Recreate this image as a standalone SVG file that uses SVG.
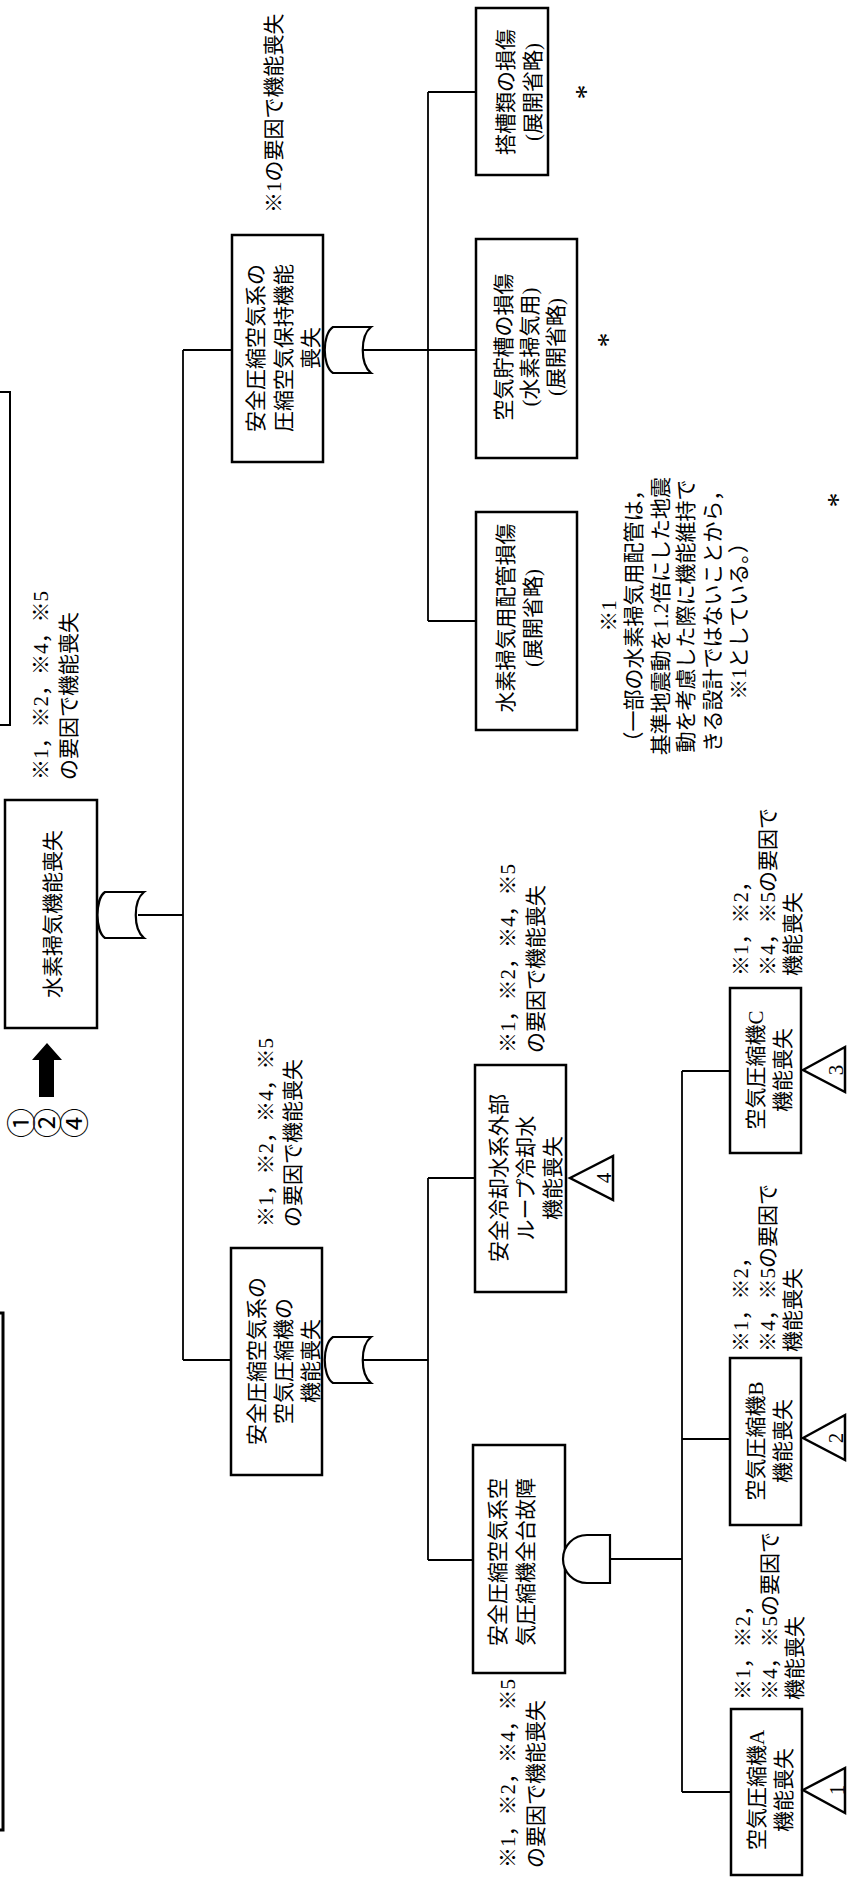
<svg xmlns="http://www.w3.org/2000/svg" width="858" height="1888" viewBox="0 0 858 1888">
<style>
.bg{fill:#fff}
.box{fill:#fff;stroke:#000;stroke-width:2.5}
.ln{fill:none;stroke:#000;stroke-width:1.8}
.gate{fill:#fff;stroke:#000;stroke-width:2.2}
.tri{fill:#fff;stroke:#000;stroke-width:2.5}
.frame{fill:none;stroke:#000}
.t{font-family:"Liberation Serif","Noto Sans CJK JP",serif;font-size:21px;fill:#000}
.c{font-family:"Noto Sans CJK JP",sans-serif;font-size:30px;fill:#000;text-anchor:middle}
.m{text-anchor:middle}
.s{text-anchor:start}
.ast{font-family:"Liberation Serif",serif;font-size:30px;fill:#000;text-anchor:middle}
</style>
<rect class="bg" x="0" y="0" width="858" height="1888"/>

<g id="frame">
<path class="frame" stroke-width="2" d="M0,392 H10 V725 H0"/>
<path class="frame" stroke-width="3" d="M0,1313 H3 V1830 H0"/>
</g>

<g id="connectors">
<path class="ln" d="M138,915 H183 M183,350 V1360 M183,350 H232 M183,1360 H231"/>
<path class="ln" d="M362,350 H428 M428,92 V621 M428,92 H476 M428,350 H476 M428,621 H476"/>
<path class="ln" d="M362,1360 H428 M428,1178 V1560 M428,1178 H475 M428,1560 H473"/>
<path class="ln" d="M610,1559 H682 M682,1071 V1792 M682,1071 H730 M682,1439 H730 M682,1792 H731"/>
</g>

<g id="root">
<rect class="box" x="5" y="800" width="92" height="228"/>
<text class="t m" transform="translate(52,914) rotate(-90)"><tspan x="0" y="8">水素掃気機能喪失</tspan></text>
<path class="gate" d="M105,892 L144,892 C133,901 133,929 144,938 L105,938 C95,931 95,899 105,892 Z"/>
<text class="t s" transform="translate(40,780) rotate(-90)"><tspan x="0" y="8">※1，※2，※4，※5</tspan><tspan x="0" y="36">の要因で機能喪失</tspan></text>
</g>

<g id="arrow">
<polygon points="47,1043 62,1060 54,1060 54,1097 39,1097 39,1060 32,1060" fill="#000"/>
<text class="c" transform="translate(21,1123) rotate(-90)"><tspan x="0" y="11">①</tspan><tspan x="0" y="37">②</tspan><tspan x="0" y="64">④</tspan></text>
</g>

<g id="pressure-holding">
<rect class="box" x="232" y="235" width="91" height="227"/>
<text class="t m" transform="translate(255,348) rotate(-90)"><tspan x="0" y="8">安全圧縮空気系の</tspan><tspan x="0" y="36">圧縮空気保持機能</tspan><tspan x="0" y="63">喪失</tspan></text>
<path class="gate" d="M333,327 L371,327 C360,336 360,364 371,373 L333,373 C322,366 322,334 333,327 Z"/>
<text class="t s" transform="translate(273,213) rotate(-90)"><tspan x="0" y="8">※1の要因で機能喪失</tspan></text>
</g>

<g id="compressor-loss">
<rect class="box" x="231" y="1248" width="91" height="227"/>
<text class="t m" transform="translate(256,1361) rotate(-90)"><tspan x="0" y="8">安全圧縮空気系の</tspan><tspan x="0" y="35">空気圧縮機の</tspan><tspan x="0" y="62">機能喪失</tspan></text>
<path class="gate" d="M333,1337 L371,1337 C360,1346 360,1374 371,1383 L333,1383 C322,1376 322,1344 333,1337 Z"/>
<text class="t s" transform="translate(265,1227) rotate(-90)"><tspan x="0" y="8">※1，※2，※4，※5</tspan><tspan x="0" y="35">の要因で機能喪失</tspan></text>
</g>

<g id="tower-tank">
<rect class="box" x="476" y="8" width="72" height="167"/>
<text class="t m" transform="translate(505,92) rotate(-90)"><tspan x="0" y="8">搭槽類の損傷</tspan><tspan x="0" y="35">(展開省略)</tspan></text>
<text class="ast" transform="translate(580,92) rotate(-90)"><tspan x="0" y="15">*</tspan></text>
</g>

<g id="air-tank">
<rect class="box" x="476" y="239" width="101" height="219"/>
<text class="t m" transform="translate(503,347) rotate(-90)"><tspan x="0" y="8">空気貯槽の損傷</tspan><tspan x="0" y="34">(水素掃気用)</tspan><tspan x="0" y="60">(展開省略)</tspan></text>
<text class="ast" transform="translate(602,340) rotate(-90)"><tspan x="0" y="15">*</tspan></text>
</g>

<g id="piping">
<rect class="box" x="476" y="512" width="101" height="218"/>
<text class="t m" transform="translate(505,618) rotate(-90)"><tspan x="0" y="8">水素掃気用配管損傷</tspan><tspan x="0" y="35">(展開省略)</tspan></text>
</g>

<g id="note-1">
<text class="t m" transform="translate(608,616) rotate(-90)"><tspan x="0" y="8">※1</tspan><tspan x="0" y="33">（一部の水素掃気用配管は，</tspan><tspan x="0" y="60">基準地震動を1.2倍にした地震</tspan><tspan x="0" y="85">動を考慮した際に機能維持で</tspan><tspan x="0" y="112">きる設計ではないことから，</tspan><tspan x="0" y="138">※1としている。）</tspan></text>
<text class="ast" transform="translate(832,500) rotate(-90)"><tspan x="0" y="15">*</tspan></text>
</g>

<g id="cooling-water">
<rect class="box" x="475" y="1065" width="91" height="227"/>
<text class="t m" transform="translate(498,1178) rotate(-90)"><tspan x="0" y="8">安全冷却水系外部</tspan><tspan x="0" y="35">ループ冷却水</tspan><tspan x="0" y="62">機能喪失</tspan></text>
<polygon class="tri" points="570,1178 613,1156 613,1200"/>
<text class="t m" transform="translate(604,1178) rotate(-90)"><tspan x="0" y="7">4</tspan></text>
<text class="t s" transform="translate(507,1053) rotate(-90)"><tspan x="0" y="8">※1，※2，※4，※5</tspan><tspan x="0" y="36">の要因で機能喪失</tspan></text>
</g>

<g id="all-compressors">
<rect class="box" x="473" y="1445" width="92" height="228"/>
<text class="t m" transform="translate(497,1562) rotate(-90)"><tspan x="0" y="8">安全圧縮空気系空</tspan><tspan x="0" y="36">気圧縮機全台故障</tspan></text>
<path class="gate" d="M610,1535 L587,1535 A24,24 0 0 0 587,1583 L610,1583 Z"/>
<text class="t s" transform="translate(507,1868) rotate(-90)"><tspan x="0" y="8">※1，※2，※4，※5</tspan><tspan x="0" y="36">の要因で機能喪失</tspan></text>
</g>

<g id="compressor-c">
<rect class="box" x="730" y="988" width="71" height="165"/>
<text class="t m" transform="translate(755,1070) rotate(-90)"><tspan x="0" y="8">空気圧縮機C</tspan><tspan x="0" y="35">機能喪失</tspan></text>
<polygon class="tri" points="803,1070 845,1047 845,1092"/>
<text class="t m" transform="translate(836,1070) rotate(-90)"><tspan x="0" y="7">3</tspan></text>
<text class="t s" transform="translate(740,976) rotate(-90)"><tspan x="0" y="8">※1，※2，</tspan><tspan x="0" y="35">※4，※5の要因で</tspan><tspan x="0" y="60">機能喪失</tspan></text>
</g>

<g id="compressor-b">
<rect class="box" x="730" y="1358" width="71" height="167"/>
<text class="t m" transform="translate(755,1441) rotate(-90)"><tspan x="0" y="8">空気圧縮機B</tspan><tspan x="0" y="35">機能喪失</tspan></text>
<polygon class="tri" points="803,1438 845,1415 845,1460"/>
<text class="t m" transform="translate(836,1438) rotate(-90)"><tspan x="0" y="7">2</tspan></text>
<text class="t s" transform="translate(740,1352) rotate(-90)"><tspan x="0" y="8">※1，※2，</tspan><tspan x="0" y="35">※4，※5の要因で</tspan><tspan x="0" y="60">機能喪失</tspan></text>
</g>

<g id="compressor-a">
<rect class="box" x="731" y="1709" width="71" height="166"/>
<text class="t m" transform="translate(756,1790) rotate(-90)"><tspan x="0" y="8">空気圧縮機A</tspan><tspan x="0" y="35">機能喪失</tspan></text>
<polygon class="tri" points="803,1790 845,1768 845,1813"/>
<text class="t m" transform="translate(837,1790) rotate(-90)"><tspan x="0" y="7">1</tspan></text>
<text class="t s" transform="translate(742,1700) rotate(-90)"><tspan x="0" y="8">※1，※2，</tspan><tspan x="0" y="35">※4，※5の要因で</tspan><tspan x="0" y="60">機能喪失</tspan></text>
</g>
</svg>
